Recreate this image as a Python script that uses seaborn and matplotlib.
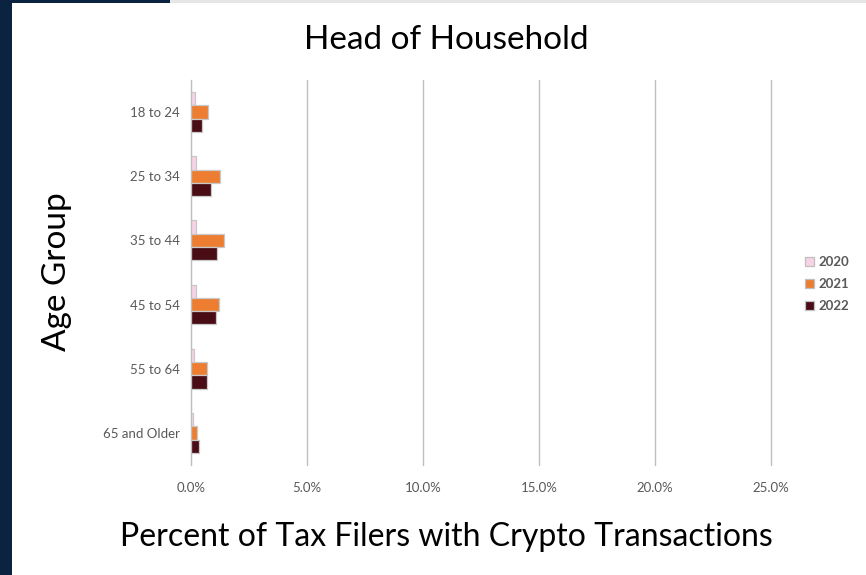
import matplotlib
matplotlib.use("Agg")
from matplotlib import pyplot as plt
from matplotlib.patches import Rectangle
from matplotlib.ticker import PercentFormatter
import seaborn as sns
import pandas as pd

age_groups = ["18 to 24", "25 to 34", "35 to 44", "45 to 54", "55 to 64", "65 and Older"]
years = ["2020", "2021", "2022"]
pct_2020 = [0.0015, 0.0023, 0.0021, 0.0020, 0.0014, 0.0010]
pct_2021 = [0.0073, 0.0123, 0.0144, 0.0122, 0.0069, 0.0027]
pct_2022 = [0.0047, 0.0086, 0.0112, 0.0106, 0.0068, 0.0036]
colors = ["#F8D3E6", "#ED7D31", "#4A0D16"]

rows = []
for year, vals in zip(years, [pct_2020, pct_2021, pct_2022]):
    for age, v in zip(age_groups, vals):
        rows.append({"Age Group": age, "Year": year, "Percent": v})
df = pd.DataFrame(rows)

sns.set_style("white")
plt.rcParams['font.family'] = ['Lato', 'DejaVu Sans']

fig = plt.figure(figsize=(8.66, 5.75), dpi=100)
ax = fig.add_axes([0.2206, 0.1913, 0.6697, 0.6697])

sns.barplot(data=df, y="Age Group", x="Percent", hue="Year", order=age_groups,
            hue_order=years, palette=colors, saturation=1, orient="h", width=0.62,
            edgecolor="#C8C8C8", linewidth=0.9, ax=ax, legend=False)

ax.set_xlim(0, 0.25)
ax.set_xticks([0, 0.05, 0.10, 0.15, 0.20, 0.25])
ax.xaxis.set_major_formatter(PercentFormatter(1.0, decimals=1))
ax.grid(axis="x", color="#BFBFBF", linewidth=1)
for gl in ax.get_xgridlines():
    gl.set_clip_on(False)
ax.set_axisbelow(True)
for s in ["top", "right", "bottom"]:
    ax.spines[s].set_visible(False)
ax.spines["left"].set_color("#BFBFBF")
ax.tick_params(axis="x", length=4, color="#BFBFBF", labelsize=9.5, labelcolor="#595959", pad=8)
ax.tick_params(axis="y", length=0, labelsize=9.5, labelcolor="#595959", pad=8)

ax.set_xlabel("Percent of Tax Filers with Crypto Transactions", fontsize=23, color="black")
ax.xaxis.set_label_coords((446 - 191) / 580, -(537 - 465) / 385, transform=ax.transAxes)
ax.xaxis.label.set_va("center")
ax.set_ylabel("Age Group", fontsize=24, color="black")
ax.yaxis.set_label_coords(-(191 - 57) / 580, (465 - 272) / 385, transform=ax.transAxes)
ax.yaxis.label.set_va("center")
fig.text(446 / 866, 1 - 40 / 575, "Head of Household", fontsize=24, color="black", ha="center", va="center")

handles = [Rectangle((0, 0), 1, 1, facecolor=c, edgecolor="#BFBFBF", linewidth=0.9) for c in colors]
leg = fig.legend(handles, years, loc="center left", bbox_to_anchor=(0.916, 0.506),
                 frameon=False, handlelength=0.7, handleheight=0.7, handletextpad=0.3,
                 labelspacing=0.75, prop={"size": 9.5, "weight": "bold"})
for t in leg.get_texts():
    t.set_color("#595959")

# dark frame pieces at the left and top edges
fig.patches.append(Rectangle((0, 0), 12 / 866, 1, transform=fig.transFigure, facecolor="#0B2240", edgecolor="none"))
fig.patches.append(Rectangle((0, 1 - 3 / 575), 170 / 866, 3 / 575, transform=fig.transFigure, facecolor="#0B2240", edgecolor="none"))
fig.patches.append(Rectangle((170 / 866, 1 - 3 / 575), 1, 3 / 575, transform=fig.transFigure, facecolor="#E6E6E6", edgecolor="none"))

fig.savefig("out.png", dpi=100)
